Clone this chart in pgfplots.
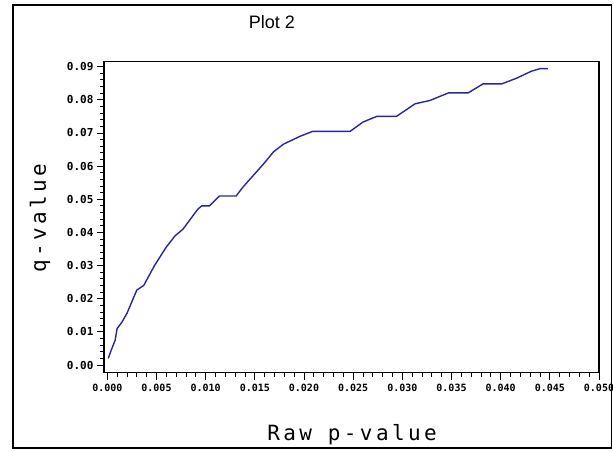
\documentclass[border=0pt]{standalone}
\usepackage{pgfplots}
\pgfplotsset{compat=1.18}
\usepackage{pgfplotstable}
\usepackage{fontspec}
\setmainfont{Liberation Sans}
\newfontfamily\labfont[LetterSpace=16]{DejaVu Sans Mono}
\newfontfamily\tickfont{DejaVu Sans Mono}

\definecolor{curve}{RGB}{40,40,150}

% raw p-value against q-value
\pgfplotstableread{
p q
0.0001 0.0020
0.0004 0.0045
0.0008 0.0075
0.0010 0.0110
0.0015 0.0130
0.0020 0.0156
0.0030 0.0226
0.0037 0.0240
0.0048 0.0300
0.0060 0.0356
0.0069 0.0390
0.0077 0.0410
0.0092 0.0470
0.0096 0.0480
0.0104 0.0480
0.0114 0.0510
0.0131 0.0510
0.0138 0.0537
0.0159 0.0607
0.0169 0.0643
0.0179 0.0666
0.0196 0.0690
0.0209 0.0705
0.0247 0.0705
0.0260 0.0733
0.0274 0.0750
0.0294 0.0750
0.0313 0.0788
0.0328 0.0798
0.0347 0.0821
0.0367 0.0821
0.0382 0.0848
0.0401 0.0848
0.0416 0.0865
0.0431 0.0886
0.0440 0.0894
0.0448 0.0894
}\qtable

\begin{document}
\begin{tikzpicture}[x=1pt,y=1pt]
\useasboundingbox (0,0) rectangle (613,451);
\fill[white] (0,0) rectangle (613,451);
% outer frame
\draw[line width=1.6pt] (13,3) rectangle (611.5,446);
% title
\node[font=\fontsize{18}{20}\selectfont] at (272,429) {Plot 2};
% axis labels
\node[font=\labfont\fontsize{21}{23}\selectfont] at (352,16) {Raw p-value};
\node[font=\labfont\fontsize{21}{23}\selectfont, rotate=90] at (40,233) {q-value};
\begin{axis}[
  at={(104pt,78.3pt)}, anchor=south west,
  scale only axis, width=495pt, height=311pt,
  xmin=-0.000336, xmax=0.05,
  ymin=-0.00232, ymax=0.0915,
  scaled ticks=false,
  axis line style={line width=1.4pt},
  tick align=outside,
  major tick length=7pt, minor tick length=4pt,
  every tick/.style={black, line width=0.9pt},
  xtick={0,0.005,0.01,0.015,0.02,0.025,0.03,0.035,0.04,0.045,0.05},
  xticklabels={0.000,0.005,0.010,0.015,0.020,0.025,0.030,0.035,0.040,0.045,0.050},
  ytick={0,0.01,0.02,0.03,0.04,0.05,0.06,0.07,0.08,0.09},
  yticklabels={0.00,0.01,0.02,0.03,0.04,0.05,0.06,0.07,0.08,0.09},
  minor x tick num=4, minor y tick num=4,
  xtick pos=bottom, ytick pos=left,
  x tick label style={font=\tickfont\bfseries\fontsize{10}{11}\selectfont, yshift=-1pt},
  y tick label style={font=\tickfont\bfseries\fontsize{11}{12}\selectfont},
  clip=false,
]
\addplot[curve, line width=1.4pt] table[x=p, y=q] {\qtable};
\end{axis}
\end{tikzpicture}
\end{document}
